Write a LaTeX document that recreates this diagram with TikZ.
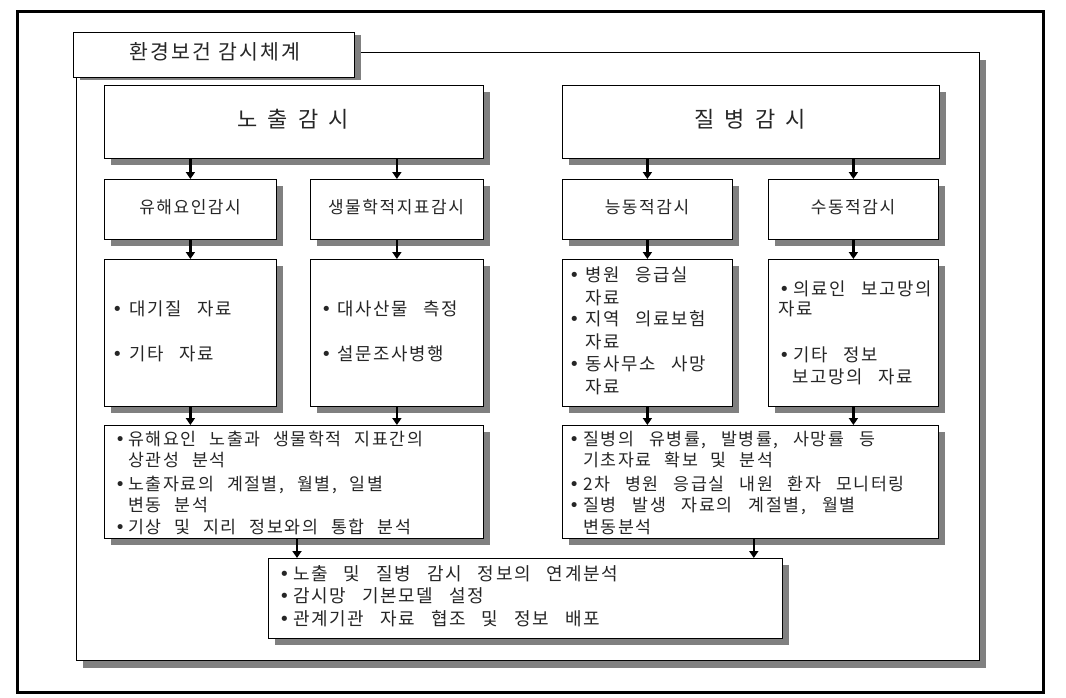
\documentclass[tikz,border=0pt]{standalone}
\usepackage{fontspec}
\setmainfont{Noto Sans CJK KR}[LetterSpace=9]
\newfontfamily\ttlfont{Noto Sans CJK KR}[LetterSpace=10]
\newfontfamily\dvfont{DejaVu Sans}
\usetikzlibrary{arrows.meta,shadows}
\definecolor{shd}{HTML}{808080}
\newcommand\bl[1]{\makebox[#1pt][l]{\dvfont •}}
\newcommand\sps[1]{\spaceskip #1pt\relax}
\newcommand\mkbox[5]{\node[bx, anchor=north west, minimum width={(#4-#2)*1pt}, minimum height={(#5-#3)*1pt}] (#1) at (#2,#3) {};}
\tikzset{
  bx/.style={draw=black, line width=0.8pt, fill=white, inner sep=0pt,
    drop shadow={shadow xshift=7pt, shadow yshift=-7pt, fill=shd, opacity=1}},
  arr/.style={line width=2.6pt, -{Triangle[width=9pt,length=7pt]}},
  txt/.style={inner sep=0pt, anchor=west, text height=0.82em, text depth=0.08em, text=black!85},
  big/.style={inner sep=0pt, text height=0.82em, text depth=0.08em, text=black!85,
    font=\fontsize{22}{22}\selectfont\sps{10}},
  mid/.style={inner sep=0pt, text height=0.82em, text depth=0.08em, text=black!85,
    font=\fontsize{17}{17}\selectfont},
  dat/.style={txt, font=\fontsize{17.8}{17.8}\selectfont\sps{16}},
  ana/.style={txt, font=\fontsize{17.3}{17.3}\selectfont\sps{13}},
  fin/.style={txt, font=\fontsize{18}{18}\selectfont\sps{16}},
}
\begin{document}
\begin{tikzpicture}[x=1pt,y=-1pt]
\useasboundingbox (0,0) rectangle (1066,697);
% outer frame
\node[draw=black, line width=3pt, inner sep=0pt, anchor=north west,
  minimum width=1026pt, minimum height=681pt] (frame) at (16,10) {};
% panel
\node[draw=black, line width=0.8pt, fill=white, inner sep=0pt, anchor=north west,
  minimum width=903pt, minimum height=608pt,
  drop shadow={shadow xshift=7pt, shadow yshift=-8pt, fill=shd, opacity=1}] (panel) at (76,52) {};
% title
\node[draw=black, line width=0.8pt, fill=white, inner sep=0pt, anchor=north west,
  minimum width=281pt, minimum height=45pt,
  drop shadow={shadow xshift=7pt, shadow yshift=-3pt, fill=shd, opacity=1}] (title) at (73,32) {};
\node[inner sep=0pt, text height=0.82em, text depth=0.08em, text=black!85,
  font=\ttlfont\fontsize{20.5}{20.5}\selectfont\sps{8}] (titletxt) at (215,56) {환경보건 감시체계};
% boxes
\mkbox{nochul}{104}{85}{483}{158}
\mkbox{jilbyung}{562}{85}{939}{158}
\mkbox{yuhae}{104}{179}{276}{239}
\mkbox{saengmul}{310}{179}{483}{239}
\mkbox{neung}{562}{179}{732}{239}
\mkbox{sudong}{768}{179}{938}{239}
\mkbox{dA}{104}{259}{276}{406}
\mkbox{dB}{310}{259}{483}{406}
\mkbox{dC}{562}{259}{732}{406}
\mkbox{dD}{768}{259}{938}{406}
\mkbox{anaL}{104}{425}{483}{538}
\mkbox{anaR}{562}{425}{938}{538}
\mkbox{final}{268}{558}{782}{638}
% arrows
\draw[arr] (nochul.south -| yuhae.north) -- (yuhae.north);
\draw[arr] (nochul.south -| saengmul.north) -- (saengmul.north);
\draw[arr] (jilbyung.south -| neung.north) -- (neung.north);
\draw[arr] (jilbyung.south -| sudong.north) -- (sudong.north);
\draw[arr] (yuhae.south) -- (dA.north);
\draw[arr] (saengmul.south) -- (dB.north);
\draw[arr] (neung.south) -- (dC.north);
\draw[arr] (sudong.south) -- (dD.north);
\draw[arr] (dA.south) -- (dA.south |- anaL.north);
\draw[arr] (dB.south) -- (dB.south |- anaL.north);
\draw[arr] (dC.south) -- (dC.south |- anaR.north);
\draw[arr] (dD.south) -- (dD.south |- anaR.north);
\draw[arr] ([xshift=29pt]anaL.south -| final.west) -- ([xshift=29pt]final.north west);
\draw[arr] ([xshift=-29pt]anaR.south -| final.east) -- ([xshift=-29pt]final.north east);
% big labels
\node[big] (nochultxt) at (293,124) {노 출 감 시};
\node[big] (jilbyungtxt) at (750,124) {질 병 감 시};
% mid labels
\node[mid] (yuhaetxt) at (190,210) {유해요인감시};
\node[mid] (saengmultxt) at (396,210) {생물학적지표감시};
\node[mid] (neungtxt) at (647,210) {능동적감시};
\node[mid] (sudongtxt) at (853,210) {수동적감시};
% data A
\node[dat] (a1) at (112,312) {\bl{17}대기질 자료};
\node[dat] (a2) at (112,357) {\bl{17}기타 자료};
% data B
\node[dat] (b1) at (321,312) {\bl{16}대사산물 측정};
\node[dat] (b2) at (321,357) {\bl{16}설문조사병행};
% data C
\node[dat] (c1) at (569,278) {\bl{16}병원 응급실};
\node[dat] (c2) at (585,301) {자료};
\node[dat] (c3) at (569,322) {\bl{16}지역 의료보험};
\node[dat] (c4) at (585,345) {자료};
\node[dat] (c5) at (569,367) {\bl{16}동사무소 사망};
\node[dat] (c6) at (585,390) {자료};
% data D
\node[dat] (d1) at (779,292) {\bl{14}의료인 보고망의};
\node[dat] (d2) at (778,312) {자료};
\node[dat] (d3) at (779,358) {\bl{14}기타 정보};
\node[dat] (d4) at (792,380) {보고망의 자료};
% analysis L
\node[ana] (l1) at (115,442) {\bl{13}유해요인 노출과 생물학적 지표간의};
\node[ana] (l2) at (128,463) {상관성 분석};
\node[ana] (l3) at (115,487) {\bl{13}노출자료의 계절별, 월별, 일별};
\node[ana] (l4) at (128,508) {변동 분석};
\node[ana] (l5) at (115,530) {\bl{13}기상 및 지리 정보와의 통합 분석};
% analysis R
\node[ana] (r1) at (569,442) {\bl{14}\sps{15}질병의 유병률, 발병률, 사망률 등};
\node[ana] (r2) at (583,463) {기초자료 확보 및 분석};
\node[ana] (r3) at (569,487) {\bl{14}\sps{15}2차 병원 응급실 내원 환자 모니터링};
\node[ana] (r4) at (569,508) {\bl{14}\sps{16}질병 발생 자료의 계절별, 월별};
\node[ana] (r5) at (583,530) {변동분석};
% final
\node[fin] (f1) at (279,577) {\bl{14}노출 및 질병 감시 정보의 연계분석};
\node[fin] (f2) at (279,599) {\bl{14}감시망 기본모델 설정};
\node[fin] (f3) at (279,622) {\bl{14}관계기관 자료 협조 및 정보 배포};
\end{tikzpicture}
\end{document}
